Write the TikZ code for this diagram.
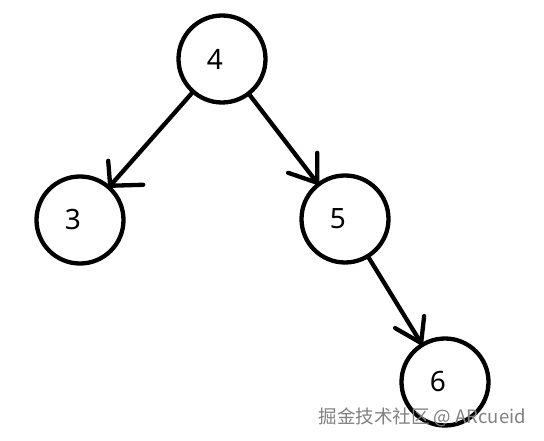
\documentclass[tikz,border=0pt]{standalone}
\usepackage{fontspec}
\setmainfont{Noto Sans}
\newfontfamily\cjk{Noto Sans CJK SC}

\begin{document}
\begin{tikzpicture}[x=1pt,y=1pt,line width=4.3pt,line cap=round,
  key/.style={draw,circle,minimum size=87pt,inner sep=0pt},
  num/.style={font=\fontsize{28}{30}\selectfont,xshift=-7pt}]
\useasboundingbox (0,0) rectangle (544,440);
\node[key,label={[num]center:4}] (n4) at (222,381) {};
\node[key,label={[num]center:3}] (n3) at (80,220) {};
\node[key,label={[num]center:5}] (n5) at (345,221) {};
\node[key,label={[num]center:6}] (n6) at (445,58) {};
\draw (n4)-- coordinate[pos=1] (t3) (n3);
\draw (t3)--++(-2,25) (t3)--++(33,1);
\draw (n4)-- coordinate[pos=1] (t5) (n5);
\draw (t5)--++(0,30) (t5)--++(-29,10);
\draw (n5)-- coordinate[pos=1] (t6) (n6);
\draw (t6)--++(3,27) (t6)--++(-26,15);
\node[anchor=base east,text=black!50,inner sep=0pt,font=\fontsize{18.5}{20}\selectfont] (wm) at (528,17) {\cjk 掘金技术社区 @ ARcueid};
\end{tikzpicture}
\end{document}
